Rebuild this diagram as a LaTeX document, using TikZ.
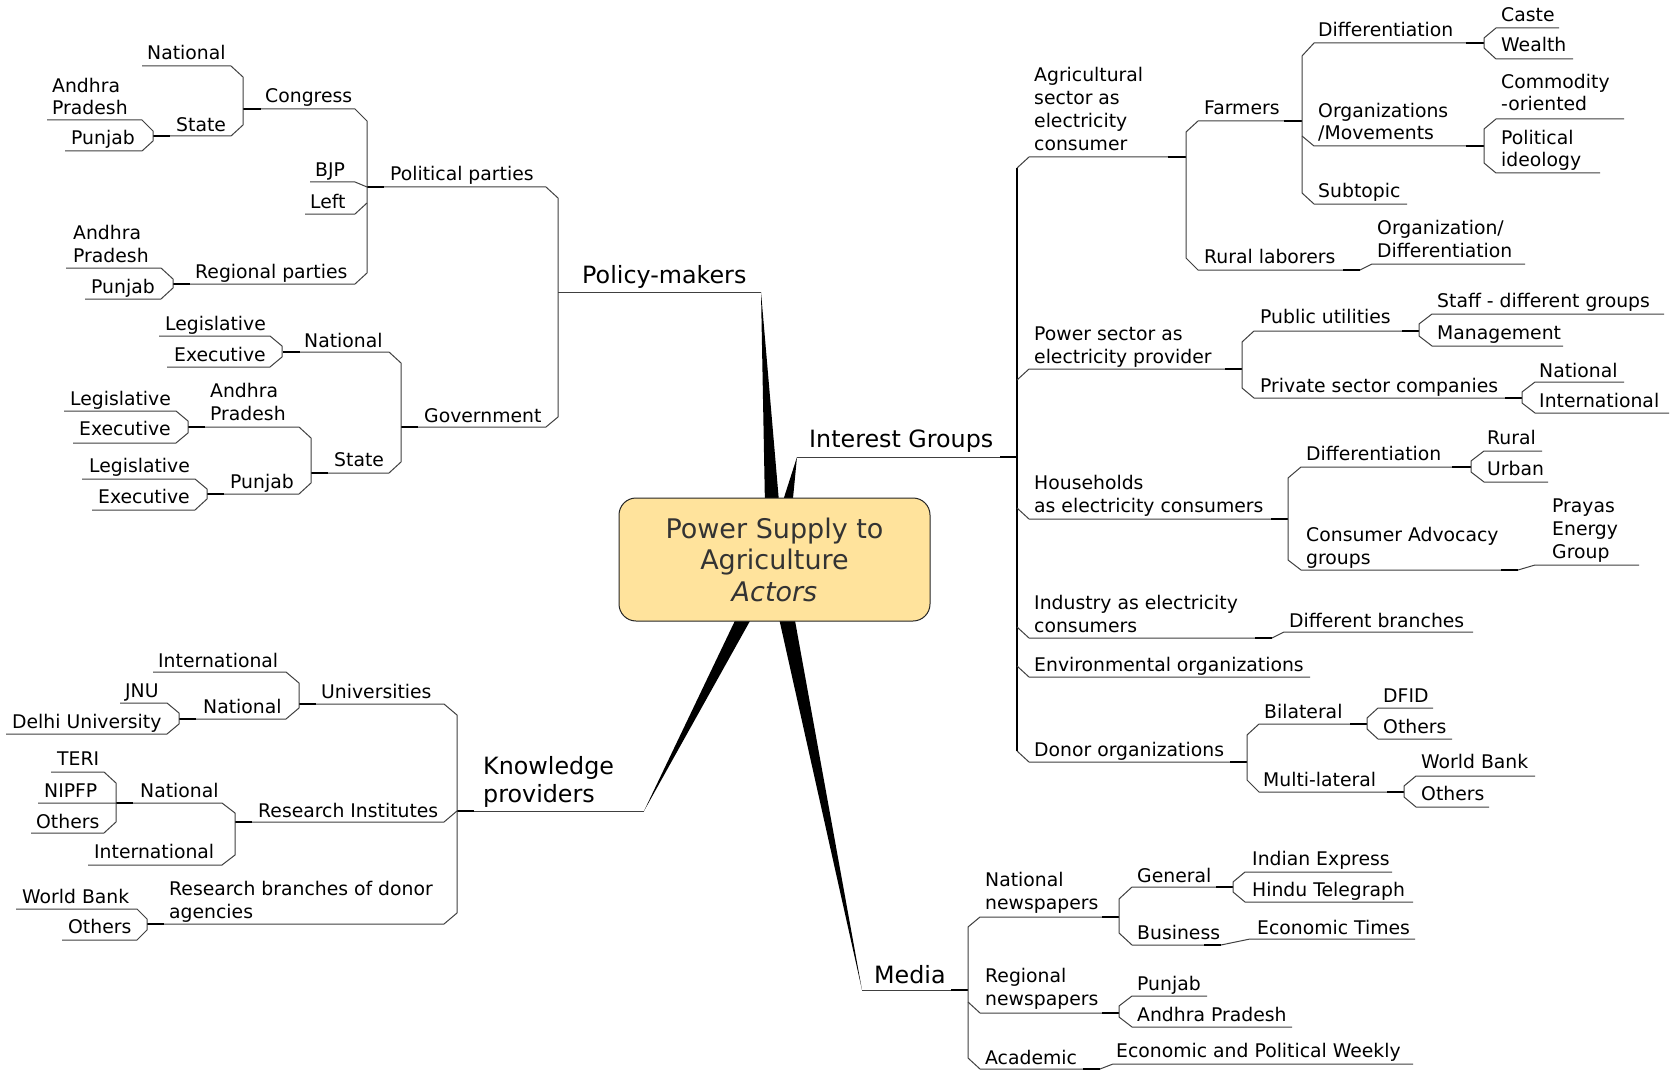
\documentclass[tikz,border=0pt]{standalone}
\usepackage{fontspec}
\setmainfont{DejaVu Sans}
\definecolor{titlefill}{RGB}{255,227,156}
\newcommand\subfont{\fontsize{18.8}{22.7}\selectfont}
\newcommand\bigfont{\fontsize{23.8}{28}\selectfont}
\newcommand\titlefont{\fontsize{27}{31.5}\selectfont}
\newcommand\ml[1]{\begin{tabular}[b]{@{}l@{}}#1\end{tabular}}
\tikzset{
  ln/.style={draw=black!75, line width=1pt, line join=miter},
  stub/.style={draw=black, line width=2pt},
  trunk/.style={draw=black, line width=1.6pt},
  lbl/.style={anchor=base west, inner sep=0pt, font=\subfont},
  big/.style={anchor=base west, inner sep=0pt, font=\bigfont},
  spoke/.style={fill=black},
}
\begin{document}
\begin{tikzpicture}[x=1pt,y=-1pt]
\useasboundingbox[fill=white] (0,0) rectangle (1674,1070);

% tapered spokes from the central topic
\fill[spoke] (761,292) -- (766,560) -- (784,560) -- cycle;
\fill[spoke] (797,457) -- (764,560) -- (787,560) -- cycle;
\fill[spoke] (644,811) -- (764,560) -- (784,560) -- cycle;
\fill[spoke] (862,990) -- (766,560) -- (784,560) -- cycle;

% central topic
\node[draw=black!85, fill=titlefill, rounded corners=17pt, line width=1pt,
      minimum width=311pt, minimum height=123pt, inner sep=0pt] (root) at (774.5,559.5) {};
\node[anchor=base, inner sep=0pt, font=\titlefont, text=black!80] (roottxt) at (774.5,601)
  {\begin{tabular}[b]{@{}c@{}}Power Supply to\\Agriculture\\\textit{Actors}\end{tabular}};

% ---------------- Policy-makers ----------------
\node[big] (pm) at (582,283) {Policy-makers};
\node[lbl] (pp) at (390,180) {Political parties};
\node[lbl] (gov) at (424,422) {Government};
\node[lbl] (cong) at (265,103) {Congress};
\node[lbl] (bjp) at (315,177) {BJP};
\node[lbl] (left) at (310,208) {Left};
\node[lbl] (regp) at (195,278) {Regional parties};
\node[lbl] (cnat) at (147,60) {National};
\node[lbl] (cst) at (176,132) {State};
\node[lbl] (cap) at (52,115) {\ml{Andhra\\Pradesh}};
\node[lbl] (cpb) at (71,145) {Punjab};
\node[lbl] (rap) at (73,262) {\ml{Andhra\\Pradesh}};
\node[lbl] (rpb) at (91,293) {Punjab};
\node[lbl] (gnat) at (304,347) {National};
\node[lbl] (gst) at (334,466) {State};
\node[lbl] (gnl) at (165,330) {Legislative};
\node[lbl] (gne) at (174,361) {Executive};
\node[lbl] (gap) at (210,420) {\ml{Andhra\\Pradesh}};
\node[lbl] (gpb) at (230,488) {Punjab};
\node[lbl] (gapl) at (70,405) {Legislative};
\node[lbl] (gape) at (79,435) {Executive};
\node[lbl] (gpbl) at (89,472) {Legislative};
\node[lbl] (gpbe) at (98,503) {Executive};

\draw[ln] (558,292) -- (761,292);
\draw[ln] (367,187) -- (546,187) -- (558,198) -- (558,417) -- (546,427) -- (401,427);
\draw[stub] (367,187) -- (384,187);
\draw[stub] (401,427) -- (418,427);
\draw[ln] (243,109) -- (355,109) -- (367,121) -- (367,273) -- (355,284) -- (173,284);
\draw[ln] (310,182) -- (355,182) -- (367,187);
\draw[ln] (305,214) -- (355,214) -- (367,203);
\draw[stub] (243,109) -- (261,109);
\draw[stub] (173,284) -- (190,284);
\draw[ln] (142,66) -- (231,66) -- (243,77) -- (243,125) -- (231,136) -- (153,136);
\draw[stub] (153,136) -- (170,136);
\draw[ln] (47,120) -- (142,120) -- (153,131) -- (153,141) -- (142,151) -- (65,151);
\draw[ln] (66,268) -- (161,268) -- (173,279) -- (173,288) -- (161,299) -- (85,299);
\draw[ln] (283,352) -- (389,352) -- (401,363) -- (401,462) -- (389,473) -- (311,473);
\draw[stub] (283,352) -- (300,352);
\draw[stub] (311,473) -- (328,473);
\draw[ln] (159,336) -- (270,336) -- (282,346) -- (282,357) -- (270,367) -- (167,367);
\draw[ln] (188,427) -- (299,427) -- (311,438) -- (311,483) -- (299,494) -- (207,494);
\draw[stub] (188,427) -- (205,427);
\draw[stub] (207,494) -- (224,494);
\draw[ln] (64,411) -- (176,411) -- (188,421) -- (188,433) -- (176,443) -- (73,443);
\draw[ln] (82,479) -- (195,479) -- (207,489) -- (207,499) -- (195,510) -- (92,510);

% ---------------- Knowledge providers ----------------
\node[big] (kp) at (483,802) {\ml{Knowledge\\providers}};
\node[lbl] (univ) at (321,698) {Universities};
\node[lbl] (ri) at (258,817) {Research Institutes};
\node[lbl] (rb) at (169,918) {\ml{Research branches of donor\\agencies}};
\node[lbl] (uint) at (158,667) {International};
\node[lbl] (unat) at (203,713) {National};
\node[lbl] (jnu) at (125,697) {JNU};
\node[lbl] (du) at (12,728) {Delhi University};
\node[lbl] (rnat) at (140,797) {National};
\node[lbl] (rint) at (94,858) {International};
\node[lbl] (teri) at (57,765) {TERI};
\node[lbl] (nipfp) at (44,797) {NIPFP};
\node[lbl] (roth) at (36,828) {Others};
\node[lbl] (wb) at (22,903) {World Bank};
\node[lbl] (koth) at (68,933) {Others};

\draw[ln] (457,811) -- (644,811);
\draw[stub] (457,811) -- (474,811);
\draw[ln] (299,704) -- (444,704) -- (457,715) -- (457,913) -- (444,924) -- (147,924);
\draw[ln] (235,822) -- (444,822) -- (457,811);
\draw[stub] (299,704) -- (316,704);
\draw[stub] (235,822) -- (252,822);
\draw[stub] (147,924) -- (164,924);
\draw[ln] (153,672) -- (286,672) -- (299,683) -- (299,708) -- (286,719) -- (179,719);
\draw[stub] (179,719) -- (196,719);
\draw[ln] (120,703) -- (167,703) -- (179,713) -- (179,724) -- (167,734) -- (6,734);
\draw[ln] (38,803) -- (222,803) -- (235,813) -- (235,855) -- (222,865) -- (88,865);
\draw[stub] (116,803) -- (133,803);
\draw[ln] (51,772) -- (104,772) -- (116,783) -- (116,822) -- (104,833) -- (31,833);
\draw[ln] (16,909) -- (137,909) -- (147,919) -- (147,930) -- (137,940) -- (62,940);

% ---------------- Interest Groups ----------------
\node[big] (ig) at (809,447) {Interest Groups};
\draw[ln] (797,457) -- (1017,457);
\draw[stub] (1000,457) -- (1017,457);
\draw[trunk] (1017,168) -- (1017,751);
\draw[ln] (1017,168) -- (1029,157) -- (1186,157);
\draw[stub] (1168,157) -- (1186,157);
\draw[ln] (1017,380) -- (1029,369) -- (1242,369);
\draw[stub] (1225,369) -- (1242,369);
\draw[ln] (1017,508) -- (1029,519) -- (1288,519);
\draw[stub] (1271,519) -- (1288,519);
\draw[ln] (1017,627) -- (1029,638) -- (1272,638) -- (1284,632) -- (1473,632);
\draw[stub] (1255,638) -- (1272,638);
\draw[ln] (1017,666) -- (1029,677) -- (1310,677);
\draw[ln] (1017,751) -- (1029,762) -- (1247,762);
\draw[stub] (1230,762) -- (1247,762);

\node[lbl] (agri) at (1034,150) {\ml{Agricultural\\sector as\\electricity\\consumer}};
\node[lbl] (farm) at (1204,115) {Farmers};
\node[lbl] (rural) at (1204,263) {Rural laborers};
\node[lbl] (orgd) at (1377,257) {\ml{Organization/\\Differentiation}};
\node[lbl] (fdiff) at (1318,37) {Differentiation};
\node[lbl] (forg) at (1318,140) {\ml{Organizations\\/Movements}};
\node[lbl] (subt) at (1318,197) {Subtopic};
\node[lbl] (caste) at (1501,22) {Caste};
\node[lbl] (wealth) at (1501,52) {Wealth};
\node[lbl] (comm) at (1501,111) {\ml{Commodity\\-oriented}};
\node[lbl] (polid) at (1501,167) {\ml{Political\\ideology}};

\draw[ln] (1302,121) -- (1198,121) -- (1186,132) -- (1186,258) -- (1198,270) -- (1360,270) -- (1372,264) -- (1525,264);
\draw[stub] (1284,121) -- (1302,121);
\draw[stub] (1343,270) -- (1360,270);
\draw[ln] (1484,43) -- (1314,43) -- (1302,56) -- (1302,193) -- (1314,204) -- (1407,204);
\draw[ln] (1302,136) -- (1314,146) -- (1484,146);
\draw[stub] (1466,43) -- (1484,43);
\draw[stub] (1466,146) -- (1484,146);
\draw[ln] (1559,28) -- (1496,28) -- (1484,38) -- (1484,48) -- (1496,59) -- (1573,59);
\draw[ln] (1624,119) -- (1496,119) -- (1484,129) -- (1484,163) -- (1496,173) -- (1600,173);

\node[lbl] (pow) at (1034,363) {\ml{Power sector as\\electricity provider}};
\node[lbl] (pu) at (1260,323) {Public utilities};
\node[lbl] (priv) at (1260,392) {Private sector companies};
\node[lbl] (staff) at (1437,307) {Staff - different groups};
\node[lbl] (mgmt) at (1437,339) {Management};
\node[lbl] (pnat) at (1539,377) {National};
\node[lbl] (pint) at (1539,407) {International};
\draw[ln] (1419,331) -- (1254,331) -- (1242,342) -- (1242,388) -- (1254,398) -- (1522,398);
\draw[stub] (1402,331) -- (1419,331);
\draw[stub] (1505,398) -- (1522,398);
\draw[ln] (1664,314) -- (1432,314) -- (1419,324) -- (1419,336) -- (1432,346) -- (1563,346);
\draw[ln] (1624,382) -- (1535,382) -- (1522,392) -- (1522,403) -- (1535,413) -- (1669,413);

\node[lbl] (hh) at (1034,512) {\ml{Households\\as electricity consumers}};
\node[lbl] (hdiff) at (1306,460) {Differentiation};
\node[lbl] (cag) at (1306,564) {\ml{Consumer Advocacy\\groups}};
\node[lbl] (prayas) at (1552,558) {\ml{Prayas\\Energy\\Group}};
\node[lbl] (rur) at (1487,444) {Rural};
\node[lbl] (urb) at (1487,475) {Urban};
\draw[ln] (1471,467) -- (1301,467) -- (1288,478) -- (1288,560) -- (1301,570) -- (1518,570) -- (1535,565) -- (1639,565);
\draw[stub] (1452,467) -- (1471,467);
\draw[stub] (1501,570) -- (1518,570);
\draw[ln] (1542,451) -- (1484,451) -- (1471,461) -- (1471,472) -- (1484,482) -- (1548,482);

\node[lbl] (ind) at (1034,632) {\ml{Industry as electricity\\consumers}};
\node[lbl] (difb) at (1289,627) {Different branches};
\node[lbl] (env) at (1034,671) {Environmental organizations};
\node[lbl] (donor) at (1034,756) {Donor organizations};
\node[lbl] (bil) at (1264,718) {Bilateral};
\node[lbl] (mul) at (1263,786) {Multi-lateral};
\node[lbl] (dfid) at (1383,702) {DFID};
\node[lbl] (both) at (1383,733) {Others};
\node[lbl] (dwb) at (1421,768) {World Bank};
\node[lbl] (moth) at (1421,800) {Others};
\draw[ln] (1367,724) -- (1259,724) -- (1247,735) -- (1247,780) -- (1259,792) -- (1404,792);
\draw[stub] (1350,724) -- (1367,724);
\draw[stub] (1387,792) -- (1404,792);
\draw[ln] (1433,708) -- (1378,708) -- (1367,718) -- (1367,729) -- (1378,739) -- (1452,739);
\draw[ln] (1535,776) -- (1416,776) -- (1404,786) -- (1404,797) -- (1416,807) -- (1489,807);

% ---------------- Media ----------------
\node[big] (media) at (874,983) {Media};
\draw[ln] (862,990) -- (968,990);
\draw[stub] (951,990) -- (968,990);
\draw[ln] (1119,917) -- (980,917) -- (968,927) -- (968,1058) -- (980,1069) -- (1100,1069) -- (1113,1064) -- (1413,1064);
\draw[ln] (968,1002) -- (980,1013) -- (1119,1013);
\draw[stub] (1102,917) -- (1119,917);
\draw[stub] (1102,1013) -- (1119,1013);
\draw[stub] (1083,1069) -- (1100,1069);
\node[lbl] (nn) at (985,909) {\ml{National\\newspapers}};
\node[lbl] (rn) at (985,1005) {\ml{Regional\\newspapers}};
\node[lbl] (acad) at (985,1064) {Academic};
\node[lbl] (gen) at (1137,882) {General};
\node[lbl] (bus) at (1137,939) {Business};
\node[lbl] (iex) at (1252,865) {Indian Express};
\node[lbl] (ht) at (1252,896) {Hindu Telegraph};
\node[lbl] (et) at (1257,934) {Economic Times};
\node[lbl] (mpb) at (1137,990) {Punjab};
\node[lbl] (map) at (1137,1021) {Andhra Pradesh};
\node[lbl] (epw) at (1116,1057) {Economic and Political Weekly};
\draw[ln] (1233,887) -- (1132,887) -- (1119,899) -- (1119,933) -- (1132,945) -- (1221,945) -- (1250,939) -- (1415,939);
\draw[stub] (1216,887) -- (1233,887);
\draw[stub] (1204,945) -- (1221,945);
\draw[ln] (1392,872) -- (1245,872) -- (1233,882) -- (1233,892) -- (1245,902) -- (1413,902);
\draw[ln] (1207,996) -- (1132,996) -- (1119,1006) -- (1119,1017) -- (1132,1027) -- (1292,1027);
\end{tikzpicture}
\end{document}
